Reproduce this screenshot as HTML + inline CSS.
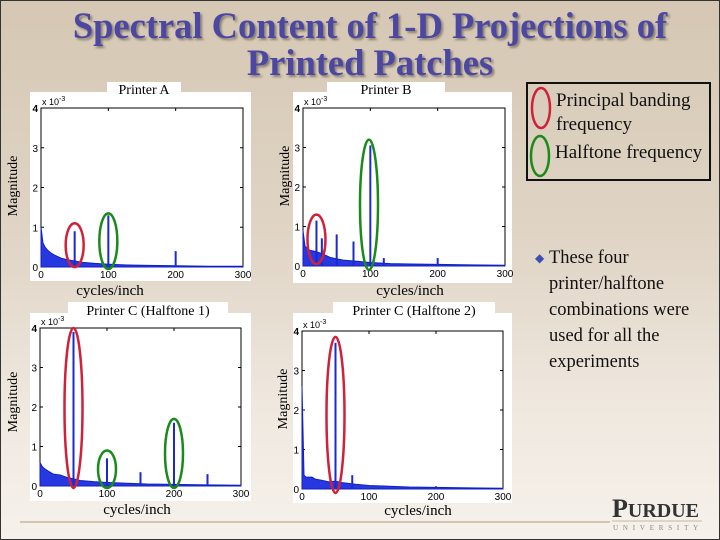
<!DOCTYPE html>
<html><head><meta charset="utf-8"><style>
html,body{margin:0;padding:0}
body{width:720px;height:540px;overflow:hidden;position:relative;background:linear-gradient(180deg,#d5c7b3 0%,#e0d5c6 45%,#efe8df 75%,#f6f1eb 100%);font-family:"Liberation Serif",serif}
#frame{position:absolute;left:0;top:0;width:718px;height:538px;border:1px solid #333}
.t{position:absolute;white-space:nowrap}
</style></head><body>
<div id="frame"></div>
<div class="t" style="left:0;width:740px;top:7px;text-align:center;font-weight:bold;font-size:36.5px;line-height:37px;color:#4b47a3;text-shadow:2px 2px 2px #8a8070">Spectral Content of 1-D Projections of<br>Printed Patches</div>
<div style="position:absolute;left:526px;top:82px;width:185px;height:99px;border:2px solid #111;box-sizing:border-box"></div>
<svg width="720" height="540" style="position:absolute;left:0;top:0" id="svg">
<ellipse cx="541" cy="108" rx="9" ry="20" fill="none" stroke="#d0203a" stroke-width="2.5"/>
<ellipse cx="540" cy="156" rx="9" ry="20" fill="none" stroke="#1a8a1a" stroke-width="2.5"/>
<line x1="20" y1="522" x2="610" y2="522" stroke="#b49a7a" stroke-width="1"/>
<line x1="612" y1="521" x2="702" y2="521" stroke="#c8b8a0" stroke-width="1"/>
</svg>
<div class="t" style="left:556px;top:89px;font-size:19px;line-height:24px;color:#111">Principal banding<br>frequency</div>
<div class="t" style="left:555px;top:142px;font-size:19px;color:#111">Halftone frequency</div>
<div class="t" style="left:549px;top:245px;font-size:18.5px;line-height:26px;color:#111"><span style="position:absolute;left:-14px;top:0;color:#3a50b0;font-size:12px">◆</span>These four<br>printer/halftone<br>combinations were<br>used for all the<br>experiments</div>
<div class="t" style="left:612px;top:494px;font-size:26px;color:#333;font-weight:bold">P<span style="font-size:20px">URDUE</span></div>
<div class="t" style="left:613px;top:524px;font-size:7px;color:#888;letter-spacing:4.8px">UNIVERSITY</div>
<script>
// data (magnitude in units of 1e-3, x in cycles/inch)
const xTicks=[0,100,200,300];
const yTicks=[0,1,2,3,4];
const baseX=[0,3,6,10,15,20,30,40,50,60,80,100,130,160,200,250,300];
const baseA=[1.0,0.6,0.5,0.42,0.35,0.3,0.22,0.18,0.15,0.12,0.09,0.07,0.05,0.04,0.03,0.02,0.02];
const baseB=[0.9,0.5,0.45,0.4,0.38,0.36,0.3,0.22,0.18,0.15,0.12,0.09,0.06,0.05,0.04,0.03,0.02];
const baseC1=[0.6,0.5,0.45,0.4,0.35,0.3,0.28,0.22,0.18,0.14,0.11,0.09,0.07,0.05,0.04,0.03,0.02];
const baseC2=[2.6,0.35,0.3,0.3,0.3,0.25,0.22,0.18,0.2,0.16,0.12,0.09,0.07,0.05,0.04,0.03,0.02];
const peakXA=[50,100,200], peakYA=[0.9,1.3,0.4];
const peakXB=[20,28,50,75,100,120,200], peakYB=[1.15,0.7,0.8,0.62,3.05,0.2,0.2];
const peakXC1=[50,100,150,200,250], peakYC1=[3.9,0.7,0.35,1.6,0.3];
const peakXC2=[50,75], peakYC2=[3.7,0.35];
const charts=[
 {name:'printer-a',title:'Printer A',ax:[41,108,243,267],panel:[30,92,221,189],tb:[107,82,74,15],mag:[13,182],xl:[110,291],base:baseA,px:peakXA,py:peakYA,
  ell:[['red',50,0,1.1],['green',100,-0.05,1.35]]},
 {name:'printer-b',title:'Printer B',ax:[303,108,505,266],panel:[293,92,219,191],tb:[327,82,118,15],mag:[285,172],xl:[410,291],base:baseB,px:peakXB,py:peakYB,
  ell:[['red',20,0.05,1.3],['green',98,-0.1,3.2]]},
 {name:'printer-c1',title:'Printer C (Halftone 1)',ax:[40,328,241,486],panel:[30,313,221,188],tb:[68,302,160,16],mag:[13,398],xl:[137,510],base:baseC1,px:peakXC1,py:peakYC1,
  ell:[['red',50,-0.05,4.0],['green',100,-0.05,0.9],['green',200,-0.05,1.7]]},
 {name:'printer-c2',title:'Printer C (Halftone 2)',ax:[302,331,503,489],panel:[293,313,219,190],tb:[333,302,162,16],mag:[283,395],xl:[418,511],base:baseC2,px:peakXC2,py:peakYC2,
  ell:[['red',50,-0.1,3.85]]}
];
const NS='http://www.w3.org/2000/svg';
const svg=document.getElementById('svg');
function mk(tag,attrs,parent){const e=document.createElementNS(NS,tag);for(const k in attrs)e.setAttribute(k,attrs[k]);(parent||svg).appendChild(e);return e;}
charts.forEach(c=>{
 const [x0,y0,x1,y1]=c.ax;
 const sx=v=>x0+(v/300)*(x1-x0);
 const sy=v=>y1-(v/4)*(y1-y0);
 const g=mk('g',{});
 
 
 const p=mk('rect',{x:c.panel[0],y:c.panel[1],width:c.panel[2],height:c.panel[3],fill:'#fff'},g);
 
 
 const tb=mk('rect',{x:c.tb[0],y:c.tb[1],width:c.tb[2],height:c.tb[3],fill:'#fff'},g);
 
 
 const tt=mk('text',{x:c.tb[0]+c.tb[2]/2,y:c.tb[1]+c.tb[3]-3,'text-anchor':'middle','font-size':14,'font-family':'Liberation Serif, serif',fill:'#000'},g);
 tt.textContent=c.title;
 
 
 const box=mk('rect',{x:x0,y:y0,width:x1-x0,height:y1-y0,fill:'none',stroke:'#000','stroke-width':1},g);
 
 
 xTicks.forEach(t=>{
  mk('line',{x1:sx(t),y1:y1,x2:sx(t),y2:y1-3,stroke:'#000'},g);
  mk('line',{x1:sx(t),y1:y0,x2:sx(t),y2:y0+3,stroke:'#000'},g);
  const l=mk('text',{x:sx(t),y:y1+11,'text-anchor':'middle','font-size':10,'font-family':'Liberation Sans, sans-serif'},g);
  l.textContent=t;
  
  
 });
 yTicks.forEach(t=>{
  mk('line',{x1:x0,y1:sy(t),x2:x0+3,y2:sy(t),stroke:'#000'},g);
  mk('line',{x1:x1,y1:sy(t),x2:x1-3,y2:sy(t),stroke:'#000'},g);
  const l=mk('text',{x:x0-3,y:sy(t)+4,'text-anchor':'end','font-size':10,'font-weight':t==4?'bold':'normal','font-family':'Liberation Sans, sans-serif'},g);
  l.textContent=t;
  
  
 });
 const ex=mk('text',{x:x0+1,y:y0-3,'font-size':9,'font-family':'Liberation Sans, sans-serif'},g);
 ex.innerHTML='x 10<tspan dy="-4" font-size="7">-3</tspan>';
 
 
 let pts=baseX.map((v,i)=>sx(v)+','+sy(c.base[i])).join(' ');
 pts+=' '+sx(300)+','+y1+' '+sx(0)+','+y1;
 const band=mk('polygon',{points:pts,fill:'#2838e0',stroke:'#1020c0','stroke-width':1},g);
 
 
 c.px.forEach((v,i)=>{
  const s=mk('line',{x1:sx(v),y1:y1,x2:sx(v),y2:sy(c.py[i]),stroke:'#1a2ad0','stroke-width':2},g);
  
  
 });
 c.ell.forEach(e=>{
  const col=e[0]=='red'?'#d0203a':'#1a8a1a';
  const top=sy(e[3]),bot=sy(e[2]);
  const el=mk('ellipse',{cx:sx(e[1]),cy:(top+bot)/2,rx:9,ry:(bot-top)/2,fill:'none',stroke:col,'stroke-width':2.5},g);
  
  
 });
 const yl=mk('text',{x:c.mag[0],y:c.mag[1],'text-anchor':'middle','font-size':14,'font-family':'Liberation Serif, serif',transform:'rotate(-90 '+(c.mag[0]+4)+' '+c.mag[1]+')'},g);
 yl.textContent='Magnitude';
 
 
 const xl=mk('text',{x:c.xl[0],y:c.xl[1]+4,'text-anchor':'middle','font-size':15,'font-family':'Liberation Serif, serif'},g);
 xl.textContent='cycles/inch';
 
 
});
</script>
</body></html>
